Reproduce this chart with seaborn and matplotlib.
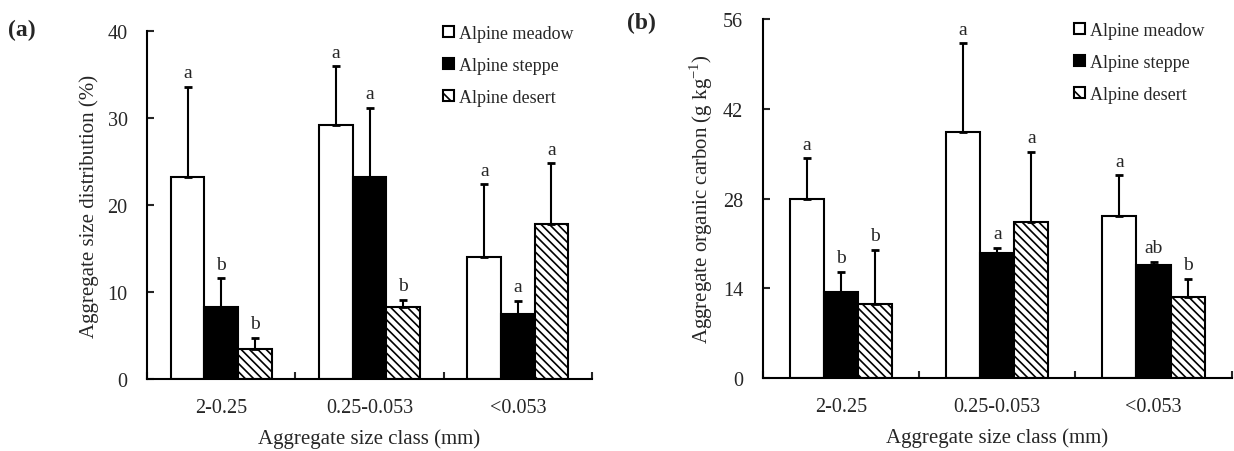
import numpy as np
import pandas as pd
import matplotlib
matplotlib.use("Agg")
import matplotlib.pyplot as plt
from matplotlib.patches import Patch
from matplotlib.container import BarContainer
import seaborn as sns

# ---------------- data ----------------
size_classes = ["2-0.25", "0.25-0.053", "<0.053"]
ecosystems = ["Alpine meadow", "Alpine steppe", "Alpine desert"]

# (a) aggregate size distribution (%)
dist_meadow = [23.25, 29.2, 14.0]
dist_steppe = [8.3, 23.25, 7.5]
dist_desert = [3.45, 8.3, 17.8]
dist_err_meadow = [10.35, 6.8, 8.4]
dist_err_steppe = [3.3, 7.95, 1.5]
dist_err_desert = [1.3, 0.8, 7.0]
dist_letters_meadow = ["a", "a", "a"]
dist_letters_steppe = ["b", "a", "a"]
dist_letters_desert = ["b", "b", "a"]

# (b) aggregate organic carbon (g kg-1)
soc_meadow = [28.0, 38.4, 25.2]
soc_steppe = [13.4, 19.5, 17.7]
soc_desert = [11.5, 24.4, 12.7]
soc_err_meadow = [6.3, 13.8, 6.4]
soc_err_steppe = [3.2, 0.8, 0.4]
soc_err_desert = [8.5, 10.9, 2.8]
soc_letters_meadow = ["a", "a", "a"]
soc_letters_steppe = ["b", "a", "ab"]
soc_letters_desert = ["b", "a", "b"]

# ---------------- style ----------------
sns.set_style("white")
plt.rcParams["font.family"] = ["Liberation Serif", "DejaVu Serif"]
plt.rcParams["hatch.linewidth"] = 1.2
plt.rcParams["mathtext.fontset"] = "custom"
plt.rcParams["mathtext.rm"] = "Liberation Serif"

colors = {"Alpine meadow": "white", "Alpine steppe": "black", "Alpine desert": "white"}
HATCH = "\\\\\\\\"


def make_df(m, s, d):
    rows = []
    for eco, vals in zip(ecosystems, [m, s, d]):
        for c, v in zip(size_classes, vals):
            rows.append({"size": c, "eco": eco, "value": v})
    return pd.DataFrame(rows)


def draw(ax, df, errs, letters, width, ylim, yticks, ylabel):
    sns.barplot(data=df, x="size", y="value", hue="eco", order=size_classes,
                hue_order=ecosystems, palette=colors, edgecolor="black",
                linewidth=1.5, width=width, errorbar=None, ax=ax, legend=False)
    bar_conts = [c for c in ax.containers if isinstance(c, BarContainer)]
    for i, cont in enumerate(bar_conts):
        xs = [p.get_x() + p.get_width() / 2 for p in cont.patches]
        hs = [p.get_height() for p in cont.patches]
        if i == 2:
            for p in cont.patches:
                p.set_hatch(HATCH)
        ax.errorbar(xs, hs, yerr=[np.zeros(len(hs)), errs[i]], fmt="none",
                    ecolor="black", elinewidth=1.5, capsize=3, capthick=2,
                    zorder=3)
        for x, h, e, t in zip(xs, hs, errs[i], letters[i]):
            ax.annotate(t, (x, h + e), xytext=(0, 4), textcoords="offset points",
                        ha="center", va="bottom", fontsize=14)
    ax.set_xlim(-0.5, 2.5)
    ax.set_ylim(*ylim)
    ax.set_yticks(yticks)
    ax.set_ylabel(ylabel, fontsize=15, labelpad=6)
    ax.set_xlabel("Aggregate size class (mm)", fontsize=15, labelpad=8)
    ax.tick_params(axis="x", which="major", length=0, pad=14, labelsize=14.5)
    ax.set_xticks([-0.5, 0.5, 1.5, 2.5], minor=True)
    ax.tick_params(axis="x", which="minor", direction="in", length=5, width=1.5,
                   bottom=True)
    ax.tick_params(axis="y", direction="in", length=5, width=1.5, pad=14,
                   labelsize=14.5, left=True)
    for sp in ["top", "right"]:
        ax.spines[sp].set_visible(False)
    for sp in ["left", "bottom"]:
        ax.spines[sp].set_linewidth(1.5)
        ax.spines[sp].set_color("black")


def add_legend(ax, fig, x, y):
    handles = [Patch(facecolor="white", edgecolor="black", linewidth=1.5),
               Patch(facecolor="black", edgecolor="black", linewidth=1.5),
               Patch(facecolor="white", edgecolor="black", linewidth=1.5, hatch="\\\\")]
    ax.legend(handles, ecosystems, loc="upper left", bbox_to_anchor=(x, y),
              bbox_transform=fig.transFigure, frameon=False, fontsize=13,
              handlelength=0.6, handleheight=0.6, handletextpad=0.3,
              labelspacing=0.82, borderpad=0, borderaxespad=0)


fig = plt.figure(figsize=(12.34, 4.52), dpi=100)
axa = fig.add_axes([147 / 1234, 1 - 380 / 452, (592 - 147) / 1234, (380 - 32.3) / 452])
axb = fig.add_axes([762.7 / 1234, 1 - 379 / 452, (1231.7 - 762.7) / 1234, (379 - 20) / 452])

draw(axa, make_df(dist_meadow, dist_steppe, dist_desert),
     [dist_err_meadow, dist_err_steppe, dist_err_desert],
     [dist_letters_meadow, dist_letters_steppe, dist_letters_desert],
     0.68, (0, 40), [0, 10, 20, 30, 40], "Aggregate size distribution (%)")
draw(axb, make_df(soc_meadow, soc_steppe, soc_desert),
     [soc_err_meadow, soc_err_steppe, soc_err_desert],
     [soc_letters_meadow, soc_letters_steppe, soc_letters_desert],
     0.655, (0, 56), [0, 14, 28, 42, 56],
     r"Aggregate organic carbon (g kg$^{-1}$)")

add_legend(axa, fig, 443 / 1234, 1 - 26 / 452)
add_legend(axb, fig, 1074 / 1234, 1 - 23 / 452)

fig.text(8 / 1234, 1 - 30 / 452, "(a)", fontsize=17, fontweight="bold", va="center", ha="left")
fig.text(627 / 1234, 1 - 23 / 452, "(b)", fontsize=17, fontweight="bold", va="center", ha="left")

fig.savefig("out.png", dpi=100)
